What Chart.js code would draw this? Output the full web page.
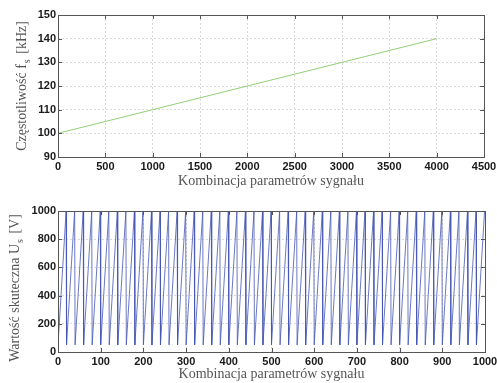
<!DOCTYPE html>
<html>
<head>
<meta charset="utf-8">
<script src="https://cdn.jsdelivr.net/npm/chart.js@4"></script>
<style>
  body { margin: 0; background: #fff; }
  .box { position: absolute; left: 0; width: 497px; }
  canvas { display: block; }
</style>
</head>
<body>
<div class="box" style="top:0"><canvas id="freqChart" width="497" height="190"></canvas></div>
<div class="box" style="top:190px"><canvas id="voltChart" width="497" height="193"></canvas></div>
<script>
// gorny wykres - czestotliwosc
const freqX = [0, 4000]
const freqY = [100, 140]
const freqXTicks = [0, 500, 1000, 1500, 2000, 2500, 3000, 3500, 4000, 4500]
const freqYTicks = [90, 100, 110, 120, 130, 140, 150]

// dolny wykres - wartosc skuteczna (wierzcholki pily)
const voltX = [
  0, 19, 20, 39, 40, 59, 60, 79, 80, 99,
  100, 119, 120, 139, 140, 159, 160, 179, 180, 199,
  200, 219, 220, 239, 240, 259, 260, 279, 280, 299,
  300, 319, 320, 339, 340, 359, 360, 379, 380, 399,
  400, 419, 420, 439, 440, 459, 460, 479, 480, 499,
  500, 519, 520, 539, 540, 559, 560, 579, 580, 599,
  600, 619, 620, 639, 640, 659, 660, 679, 680, 699,
  700, 719, 720, 739, 740, 759, 760, 779, 780, 799,
  800, 819, 820, 839, 840, 859, 860, 879, 880, 899,
  900, 919, 920, 939, 940, 959, 960, 979, 980, 999
]
const voltY = [
  50, 1000, 50, 1000, 50, 1000, 50, 1000, 50, 1000,
  50, 1000, 50, 1000, 50, 1000, 50, 1000, 50, 1000,
  50, 1000, 50, 1000, 50, 1000, 50, 1000, 50, 1000,
  50, 1000, 50, 1000, 50, 1000, 50, 1000, 50, 1000,
  50, 1000, 50, 1000, 50, 1000, 50, 1000, 50, 1000,
  50, 1000, 50, 1000, 50, 1000, 50, 1000, 50, 1000,
  50, 1000, 50, 1000, 50, 1000, 50, 1000, 50, 1000,
  50, 1000, 50, 1000, 50, 1000, 50, 1000, 50, 1000,
  50, 1000, 50, 1000, 50, 1000, 50, 1000, 50, 1000,
  50, 1000, 50, 1000, 50, 1000, 50, 1000, 50, 1000
]
const voltXTicks = [0, 100, 200, 300, 400, 500, 600, 700, 800, 900, 1000]
const voltYTicks = [0, 200, 400, 600, 800, 1000]

const xTitle = 'Kombinacja parametrów sygnału'

// ramka + wewnetrzne znaczniki jak w matlabie, tytul osi Y z indeksem dolnym
const matlabBox = {
  id: 'matlabBox',
  afterDatasetsDraw(chart, args, opts) {
    const ctx = chart.ctx
    const a = chart.chartArea
    const sx = chart.scales.x
    const sy = chart.scales.y
    ctx.save()
    ctx.strokeStyle = '#555'
    ctx.lineWidth = 1
    ctx.beginPath()
    sx.ticks.forEach(t => {
      const px = Math.round(sx.getPixelForValue(t.value)) + 0.5
      ctx.moveTo(px, a.bottom); ctx.lineTo(px, a.bottom - 4)
      ctx.moveTo(px, a.top); ctx.lineTo(px, a.top + 4)
    })
    sy.ticks.forEach(t => {
      const py = Math.round(sy.getPixelForValue(t.value)) + 0.5
      ctx.moveTo(a.left, py); ctx.lineTo(a.left + 4, py)
      ctx.moveTo(a.right, py); ctx.lineTo(a.right - 4, py)
    })
    ctx.stroke()
    ctx.strokeRect(Math.round(a.left) + 0.5, Math.round(a.top) + 0.5,
      Math.round(a.right - a.left), Math.round(a.bottom - a.top))

    // tytul osi Y
    const big = '14px "Liberation Serif"'
    const small = '10px "Liberation Serif"'
    ctx.fillStyle = '#555'
    ctx.textBaseline = 'middle'
    ctx.translate(opts.cx, opts.cy)
    ctx.rotate(-Math.PI / 2)
    ctx.font = big
    const w1 = ctx.measureText(opts.main).width
    const w3 = ctx.measureText(opts.rest).width
    ctx.font = small
    const w2 = ctx.measureText(opts.sub).width + 3
    let x = -(w1 + w2 + w3) / 2
    ctx.font = big
    ctx.fillText(opts.main, x, 0)
    x += w1 + 1
    ctx.font = small
    ctx.fillText(opts.sub, x, 5)
    x += w2 - 1
    ctx.font = big
    ctx.fillText(opts.rest, x, 0)
    ctx.restore()
  }
}

function makeOptions(xMin, xMax, xTicks, yMin, yMax, yTicks, xHeight, pad, yTitle) {
  const tickFont = { family: 'Liberation Sans', size: 11, weight: 'bold' }
  return {
    responsive: false,
    animation: false,
    layout: { padding: pad },
    plugins: { legend: { display: false }, tooltip: { enabled: false }, matlabBox: yTitle },
    scales: {
      x: {
        type: 'linear', min: xMin, max: xMax,
        afterBuildTicks: s => { s.ticks = xTicks.map(v => ({ value: v })) },
        afterFit: s => { s.height = xHeight; s.paddingLeft = 0; s.paddingRight = 0 },
        ticks: { font: tickFont, color: '#1a1a1a', padding: 3, maxRotation: 0, autoSkip: false,
          callback: v => String(v) },
        grid: { color: '#dadada', drawTicks: false },
        border: { display: false, dash: [2, 2] },
        title: { display: true, text: xTitle, color: '#555', padding: 0,
          font: { family: 'Liberation Serif', size: 14 } }
      },
      y: {
        type: 'linear', min: yMin, max: yMax,
        afterBuildTicks: s => { s.ticks = yTicks.map(v => ({ value: v })) },
        afterFit: s => { s.width = 58; s.paddingTop = 0; s.paddingBottom = 0 },
        ticks: { font: tickFont, color: '#1a1a1a', padding: 2, autoSkip: false,
          callback: v => String(v) },
        grid: { color: '#dadada', drawTicks: false },
        border: { display: false, dash: [2, 2] }
      }
    }
  }
}

new Chart(document.getElementById('freqChart'), {
  type: 'line',
  data: {
    datasets: [{
      data: freqX.map((x, i) => ({ x: x, y: freqY[i] })),
      borderColor: '#93cf72', borderWidth: 1, pointRadius: 0, tension: 0, fill: false
    }]
  },
  options: makeOptions(0, 4500, freqXTicks, 90, 150, freqYTicks, 33,
    { top: 15, right: 13, bottom: 0, left: 0 },
    { cx: 22, cy: 86, main: 'Częstotliwość f', sub: 's', rest: ' [kHz]' }),
  plugins: [matlabBox]
})

new Chart(document.getElementById('voltChart'), {
  type: 'line',
  data: {
    datasets: [{
      data: voltX.map((x, i) => ({ x: x, y: voltY[i] })),
      borderColor: '#4555b4', borderWidth: 0.8, pointRadius: 0, tension: 0, fill: false
    }]
  },
  options: makeOptions(0, 1000, voltXTicks, 0, 1000, voltYTicks, 31,
    { top: 21, right: 12, bottom: 0, left: 0 },
    { cx: 15, cy: 98, main: 'Wartość skuteczna U', sub: 's', rest: ' [V]' }),
  plugins: [matlabBox]
})
</script>
</body>
</html>
